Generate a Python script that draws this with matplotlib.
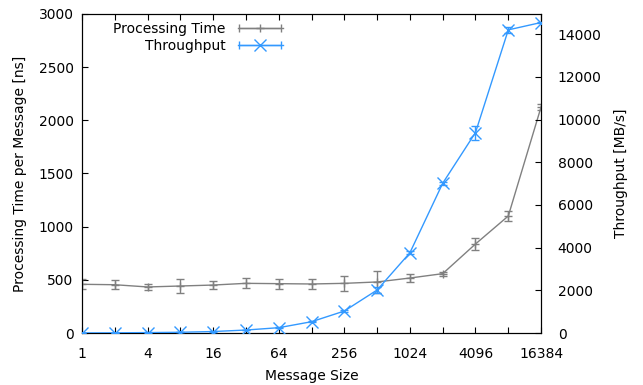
"""Processing time and throughput vs. message size."""

import matplotlib
matplotlib.use("Agg")
import matplotlib.pyplot as plt
from matplotlib.legend_handler import HandlerErrorbar
from matplotlib.ticker import FixedLocator, NullLocator

GRAY = "#808080"
BLUE = "#3399ff"

msg_sizes = [1, 2, 4, 8, 16, 32, 64, 128, 256, 512, 1024, 2048, 4096, 8192, 16384]
proc_time = [458, 454, 433, 442, 451, 467, 464, 461, 467, 480, 517, 558, 837, 1100, 2125]
proc_err = [47, 44, 28, 67, 39, 47, 47, 45, 72, 105, 40, 20, 60, 44, 30]
throughput = [5, 10, 20, 35, 70, 140, 250, 530, 1030, 2015, 3760, 7015, 9390, 14200, 14545]
tput_err = [5, 5, 5, 5, 10, 15, 20, 30, 50, 120, 60, 60, 330, 150, 40]

x_tick_labels = ["1", "4", "16", "64", "256", "1024", "4096", "16384"]


def make_plot():
    plt.rcParams["font.family"] = "DejaVu Sans"
    plt.rcParams["font.size"] = 10
    fig = plt.figure(figsize=(6.43, 3.85), dpi=100)
    ax = fig.add_axes([0.1275, 0.135, 0.714, 0.829])
    ax2 = ax.twinx()

    pt = ax.errorbar(msg_sizes, proc_time, yerr=proc_err, color=GRAY, lw=1,
                     marker="+", ms=6, mew=1, capsize=3, elinewidth=1,
                     capthick=1, label="Processing Time", zorder=3)
    tp = ax2.errorbar(msg_sizes, throughput, yerr=tput_err, color=BLUE, lw=1,
                      marker="x", ms=8, mew=1, capsize=3, elinewidth=1,
                      capthick=1, label="Throughput", zorder=3)

    ax.set_xscale("log", base=2)
    ax.set_xlim(1, 16384)
    ax.set_ylim(0, 3000)
    ax2.set_ylim(0, 14950)

    ax.xaxis.set_major_locator(FixedLocator(msg_sizes))
    ax.xaxis.set_minor_locator(NullLocator())
    labels = [str(s) if str(s) in x_tick_labels else "" for s in msg_sizes]
    ax.set_xticklabels(labels)
    ax.set_yticks(range(0, 3001, 500))
    ax2.set_yticks(range(0, 14001, 2000))

    ax.tick_params(axis="x", direction="in", top=True, length=4, pad=10)
    ax.tick_params(axis="y", direction="in", right=False, length=4, pad=6)
    ax2.tick_params(axis="y", direction="in", length=4, pad=12)

    ax.set_xlabel("Message Size", labelpad=6)
    ax.set_ylabel("Processing Time per Message [ns]", labelpad=8)
    ax2.set_ylabel("Throughput [MB/s]", labelpad=9)

    # gnuplot-style key: label first, horizontal error-bar sample
    for c in (pt, tp):
        c.has_xerr, c.has_yerr = True, False
    ax.legend([pt, tp], ["Processing Time", "Throughput"],
              handler_map={pt: HandlerErrorbar(xerr_size=1.5),
                           tp: HandlerErrorbar(xerr_size=1.5)},
              loc="upper left", bbox_to_anchor=(0.068, 0.975),
              frameon=False, markerfirst=False, borderpad=0,
              borderaxespad=0, handlelength=3.2, handletextpad=0.9,
              labelspacing=0.2)

    fig.savefig("out.png", dpi=100)


if __name__ == "__main__":
    make_plot()
